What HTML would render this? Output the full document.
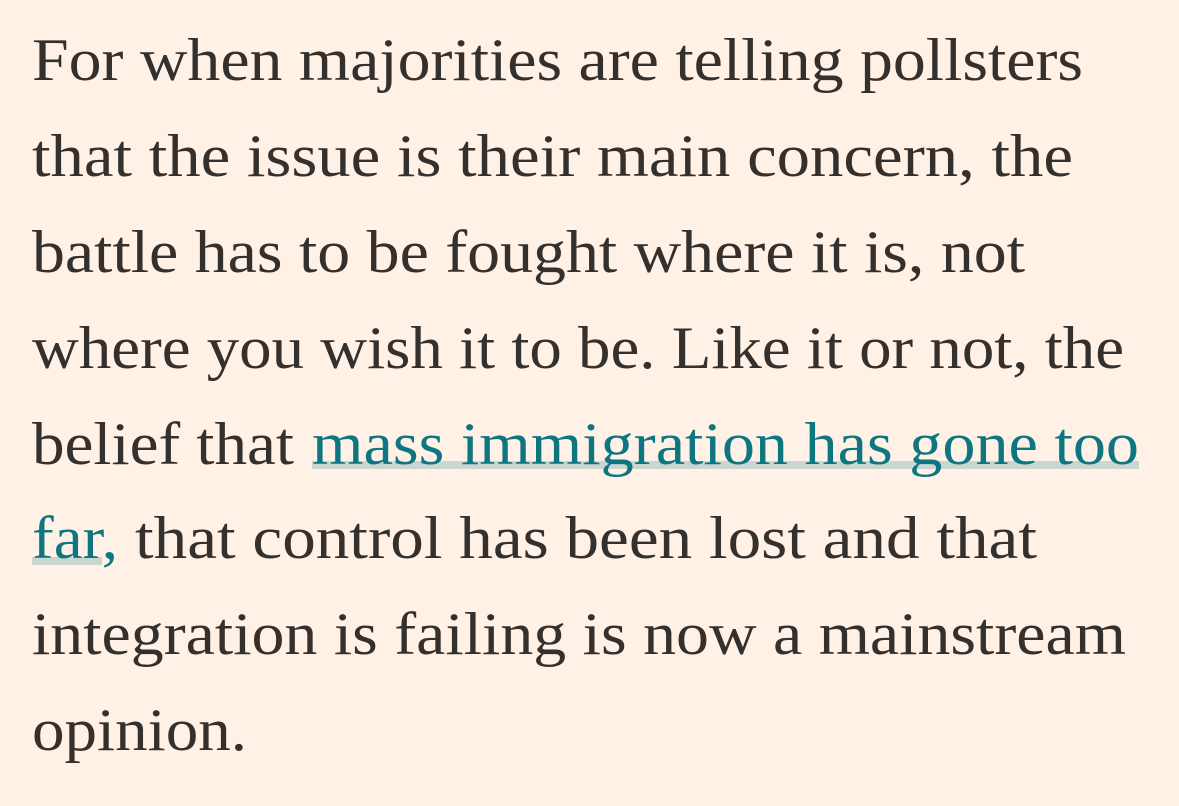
<!DOCTYPE html>
<html><head><meta charset="utf-8"><style>
html,body{margin:0;padding:0;background:#FFF1E5;}
svg{display:block}
text{font-family:"Liberation Serif",serif;font-size:60px;fill:#33302e}
.lnk{fill:#0d7680}
</style></head><body>
<svg width="1179" height="806" viewBox="0 0 1179 806">
<rect x="312" y="461" width="827" height="8" fill="#ccd6d1"/>
<rect x="32" y="557" width="70" height="8" fill="#ccd6d1"/>
<text x="32" y="80" textLength="1051" lengthAdjust="spacingAndGlyphs">For when majorities are telling pollsters</text>
<text x="32" y="176" textLength="1041" lengthAdjust="spacingAndGlyphs">that the issue is their main concern, the</text>
<text x="32" y="272" textLength="993" lengthAdjust="spacingAndGlyphs">battle has to be fought where it is, not</text>
<text x="32" y="368" textLength="1092" lengthAdjust="spacingAndGlyphs">where you wish it to be. Like it or not, the</text>
<text x="32" y="464" textLength="262" lengthAdjust="spacingAndGlyphs">belief that</text>
<text class="lnk" x="312" y="464" textLength="827" lengthAdjust="spacingAndGlyphs">mass immigration has gone too</text>
<text class="lnk" x="32" y="558" textLength="86" lengthAdjust="spacingAndGlyphs">far,</text>
<text x="135" y="558" textLength="902" lengthAdjust="spacingAndGlyphs">that control has been lost and that</text>
<text x="32" y="654" textLength="1094" lengthAdjust="spacingAndGlyphs">integration is failing is now a mainstream</text>
<text x="32" y="750" textLength="215" lengthAdjust="spacingAndGlyphs">opinion.</text>
</svg>
</body></html>
